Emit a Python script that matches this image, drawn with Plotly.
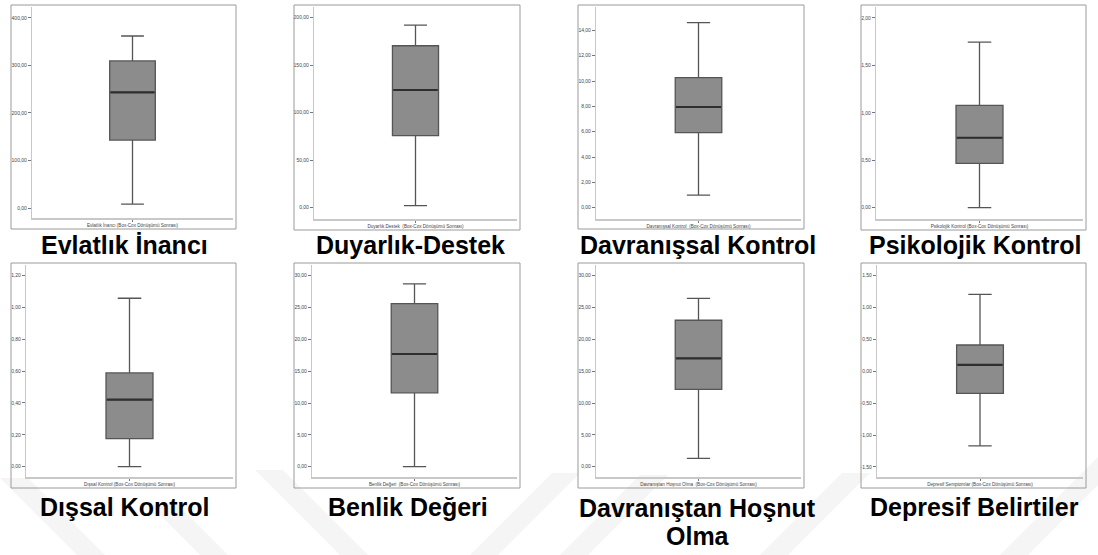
import plotly.graph_objects as go

W, H = 1098, 555

# ---- data ----
captions = ["Evlatlık İnancı", "Duyarlık-Destek", "Davranışsal Kontrol", "Psikolojik Kontrol",
            "Dışsal Kontrol", "Benlik Değeri", "Davranıştan Hoşnut Olma", "Depresif Belirtiler"]
axis_labels = ["Evlatlık İnancı (Box-Cox Dönüşümü Sonrası)",
               "Duyarlık Destek  (Box-Cox Dönüşümü Sonrası)",
               "Davranışsal Kontrol  (Box-Cox Dönüşümü Sonrası)",
               "Psikolojik Kontrol (Box-Cox Dönüşümü Sonrası)",
               "Dışsal Kontrol (Box-Cox Dönüşümü Sonrası)",
               "Benlik Değeri  (Box-Cox Dönüşümü Sonrası)",
               "Davranıştan Hoşnut Olma  (Box-Cox Dönüşümü Sonrası)",
               "Depresif Semptomlar (Box-Cox Dönüşümü Sonrası)"]
lower_fence = [8.4, 2.1, 1.0, 0.0, 0.0, 0.0, 1.31, -1.17]
q1_vals = [143.0, 75.8, 5.92, 0.467, 0.176, 11.6, 12.15, -0.345]
median_vals = [243.5, 123.9, 7.95, 0.737, 0.421, 17.7, 17.0, 0.099]
q3_vals = [309.5, 170.5, 10.26, 1.078, 0.589, 25.6, 23.0, 0.412]
upper_fence = [362.0, 192.3, 14.6, 1.744, 1.058, 28.7, 26.45, 1.207]

tick_vals = [
    [0, 100, 200, 300, 400],
    [0, 50, 100, 150, 200],
    [0, 2, 4, 6, 8, 10, 12, 14],
    [0, 0.5, 1.0, 1.5, 2.0],
    [0, 0.2, 0.4, 0.6, 0.8, 1.0, 1.2],
    [0, 5, 10, 15, 20, 25, 30],
    [0, 5, 10, 15, 20, 25, 30],
    [-1.5, -1.0, -0.5, 0, 0.5, 1.0, 1.5],
]
tick_text = [
    ["0,00", "100,00", "200,00", "300,00", "400,00"],
    ["0,00", "50,00", "100,00", "150,00", "200,00"],
    ["0,00", "2,00", "4,00", "6,00", "8,00", "10,00", "12,00", "14,00"],
    ["0,00", "0,50", "1,00", "1,50", "2,00"],
    ["0,00", "0,20", "0,40", "0,60", "0,80", "1,00", "1,20"],
    ["0,00", "5,00", "10,00", "15,00", "20,00", "25,00", "30,00"],
    ["0,00", "5,00", "10,00", "15,00", "20,00", "25,00", "30,00"],
    ["-1,50", "-1,00", "-0,50", "0,00", "0,50", "1,00", "1,50"],
]
y_ranges = [[-21, 423], [-11.9, 211.3], [-0.89, 15.84], [-0.119, 2.115],
            [-0.065, 1.267], [-1.62, 31.68], [-1.62, 31.68], [-1.657, 1.666]]

# ---- layout geometry (pixels) ----
plot_px = [(32, 233, 7, 218), (314, 517, 7, 219), (596, 801, 7, 219), (876, 1083, 7, 219),
           (26, 233, 265, 477), (312, 517, 265, 477), (596, 801, 265, 477), (877, 1083, 265, 477)]
frame_px = [(11, 236, 5, 229), (294, 520, 5, 230), (578, 804, 5, 229), (861, 1086, 5, 230),
            (11, 236, 263, 488), (294, 520, 263, 488), (578, 804, 263, 488), (861, 1086, 263, 488)]
caption_pos = [[(124, 245)], [(410, 245)], [(698, 245)], [(975, 245)],
               [(124, 507)], [(408, 507)], [(697.5, 508), (697.5, 536)], [(974.5, 507)]]
BOX_W = 0.227


def px_x(v):
    return v / W


def px_y(v):
    return 1 - v / H


fig = go.Figure()
layout = dict(width=W, height=H, margin=dict(l=0, r=0, t=0, b=0),
              paper_bgcolor="white", plot_bgcolor="white", showlegend=False)
shapes = []
annotations = []

# faint watermark bands
bands = [
    [(0, 478), (28, 478), (105, 555), (77, 555)],
    [(150, 505), (178, 505), (228, 555), (200, 555)],
    [(255, 470), (283, 470), (368, 555), (340, 555)],
    [(470, 555), (498, 555), (580, 473), (552, 473)],
    [(560, 555), (588, 555), (668, 475), (640, 475)],
    [(760, 555), (788, 555), (870, 473), (842, 473)],
    [(1000, 555), (1028, 555), (1098, 485), (1098, 457)],
]
for b in bands:
    path = "M " + " L ".join(f"{px_x(x):.5f},{px_y(y):.5f}" for x, y in b) + " Z"
    shapes.append(dict(type="path", xref="paper", yref="paper", path=path,
                       fillcolor="#f5f5f5", line=dict(width=0), layer="below"))

for i in range(8):
    n = "" if i == 0 else str(i + 1)
    x0, x1, yt, yb = plot_px[i]
    fig.add_trace(go.Box(
        x=[0], q1=[q1_vals[i]], median=[median_vals[i]], q3=[q3_vals[i]],
        lowerfence=[lower_fence[i]], upperfence=[upper_fence[i]],
        width=BOX_W, whiskerwidth=0.5,
        fillcolor="#8c8c8c", line=dict(color="#555555", width=1.3),
        xaxis="x" + n, yaxis="y" + n, hoverinfo="skip", boxpoints=False,
    ))
    # darker, heavier median stroke as in the SPSS output
    fig.add_trace(go.Scatter(
        x=[-BOX_W / 2 + 0.004, BOX_W / 2 - 0.004], y=[median_vals[i], median_vals[i]],
        mode="lines", line=dict(color="#2e2e2e", width=2.2),
        xaxis="x" + n, yaxis="y" + n, hoverinfo="skip",
    ))
    layout["xaxis" + n] = dict(
        domain=[px_x(x0), px_x(x1)], anchor="y" + n, range=[-0.5, 0.5],
        tickvals=[0], ticktext=[axis_labels[i]], ticks="outside", ticklen=2,
        tickcolor="#777777", tickfont=dict(family="Liberation Sans", size=4.6, color="#444444"),
        showline=True, linecolor="#c8c8c8", linewidth=1.6, showgrid=False, zeroline=False,
        fixedrange=True,
    )
    layout["yaxis" + n] = dict(
        domain=[px_y(yb), px_y(yt)], anchor="x" + n, range=y_ranges[i],
        tickvals=tick_vals[i], ticktext=tick_text[i], ticks="outside", ticklen=3,
        tickcolor="#777777", tickfont=dict(family="Liberation Sans", size=5, color="#444444"),
        showline=True, linecolor="#c8c8c8", linewidth=1.2, showgrid=False, zeroline=False,
        fixedrange=True,
    )
    fx0, fx1, fyt, fyb = frame_px[i]
    shapes.append(dict(type="rect", xref="paper", yref="paper",
                       x0=px_x(fx0), x1=px_x(fx1), y0=px_y(fyb), y1=px_y(fyt),
                       line=dict(color="#9a9a9a", width=1)))
    lines = [captions[i]] if len(caption_pos[i]) == 1 else ["Davranıştan Hoşnut", "Olma"]
    for (cx, cy), txt in zip(caption_pos[i], lines):
        annotations.append(dict(
            xref="paper", yref="paper", x=px_x(cx), y=px_y(cy),
            xanchor="center", yanchor="middle", showarrow=False,
            text=f"<b>{txt}</b>",
            font=dict(family="Liberation Sans, Arial", size=25, color="#000000"),
        ))

layout["shapes"] = shapes
layout["annotations"] = annotations
fig.update_layout(**layout)
fig.write_html("out.html", config={"displayModeBar": False},
               post_script="document.body.style.margin='0';document.body.style.overflow='hidden';")
